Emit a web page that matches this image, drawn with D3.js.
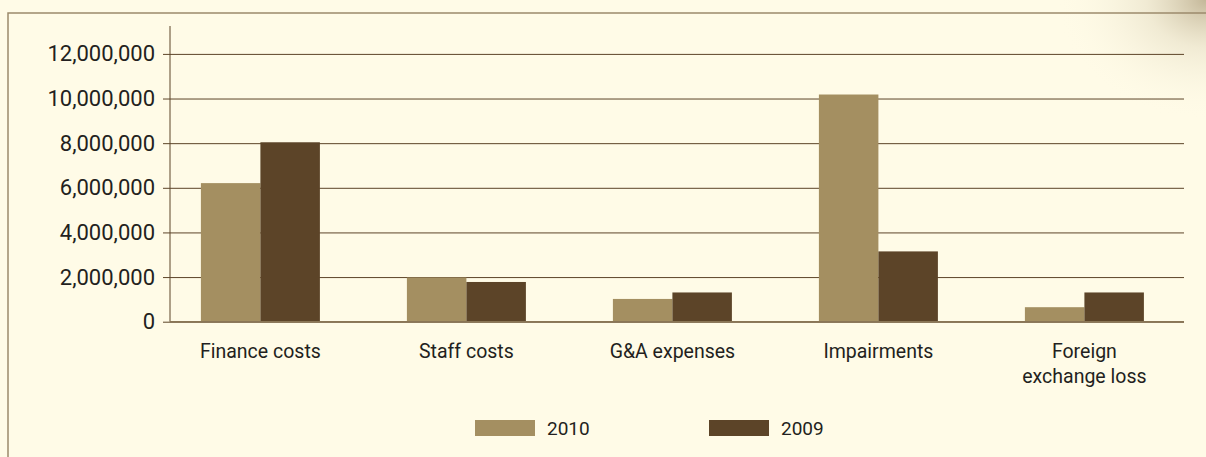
<!DOCTYPE html>
<html>
<head>
<meta charset="utf-8">
<script src="https://cdn.jsdelivr.net/npm/d3@7"></script>
<style>
  html, body { margin: 0; padding: 0; background: #fffbe7; }
  svg { display: block; font-family: Roboto, "Noto Sans", sans-serif; }
</style>
</head>
<body>
<script>
// chart data
const categories = ["Finance costs", "Staff costs", "G&A expenses", "Impairments", "Foreign\nexchange loss"];
const series = ["2010", "2009"];
const values2010 = [6210000, 1980000, 1020000, 10180000, 650000];
const values2009 = [8040000, 1780000, 1310000, 3150000, 1310000];
const yTicks = [0, 2000000, 4000000, 6000000, 8000000, 10000000, 12000000];

const colors = { "2010": "#a48f61", "2009": "#5c4428" };

const width = 1206;
const height = 457;
const marginLeft = 170;
const gridRight = 1184;

const data = categories.map((c, i) => ({ category: c, "2010": values2010[i], "2009": values2009[i] }));

const svg = d3.select("body")
    .append("svg")
    .attr("width", width)
    .attr("height", height)
    .attr("viewBox", [0, 0, width, height]);

// soft shading in the top right corner
const defs = svg.append("defs");
const grad = defs.append("radialGradient")
    .attr("id", "corner")
    .attr("cx", 1).attr("cy", 0).attr("r", 1);
grad.append("stop").attr("offset", "0%").attr("stop-color", "#b5a685").attr("stop-opacity", 0.8);
grad.append("stop").attr("offset", "40%").attr("stop-color", "#d6ccb0").attr("stop-opacity", 0.35);
grad.append("stop").attr("offset", "100%").attr("stop-color", "#fffbe7").attr("stop-opacity", 0);

svg.append("rect")
    .attr("width", width).attr("height", height)
    .attr("fill", "#fffbe7");
svg.append("rect")
    .attr("x", 1056).attr("y", 0)
    .attr("width", 150).attr("height", 120)
    .attr("fill", "url(#corner)");

// frame (left + top)
svg.append("path")
    .attr("d", `M8,${height}V13H${width}`)
    .attr("fill", "none")
    .attr("stroke", "#9c8a6c")
    .attr("stroke-width", 1.5);

// scales
const y = d3.scaleLinear()
    .domain([0, 13250000])
    .range([321.7, 26]);

const x0 = d3.scaleBand()
    .domain(categories)
    .range([157.4, 1187.4]);

const groupWidth = 119;
const x1 = d3.scaleBand()
    .domain(series)
    .range([x0.bandwidth() / 2 - groupWidth / 2, x0.bandwidth() / 2 + groupWidth / 2]);

// y axis with gridlines
svg.append("g")
    .attr("transform", `translate(${marginLeft},0)`)
    .call(d3.axisLeft(y)
        .tickValues(yTicks)
        .tickSize(7)
        .tickPadding(8)
        .tickFormat(d3.format(",")))
    .call(g => g.select(".domain").remove())
    .call(g => g.selectAll(".tick line").attr("stroke", "#5c4428"))
    .call(g => g.selectAll(".tick text")
        .attr("fill", "#231f20")
        .attr("font-size", 22)
        .attr("font-family", "Roboto, sans-serif"))
    .call(g => g.selectAll(".tick").append("line")
        .attr("x2", gridRight - marginLeft)
        .attr("stroke", "#5c4428"));

// axis line
svg.append("line")
    .attr("x1", marginLeft).attr("x2", marginLeft)
    .attr("y1", y.range()[1]).attr("y2", y(0))
    .attr("stroke", "#5c4428");

// bars
svg.append("g")
  .selectAll("g")
  .data(data)
  .join("g")
    .attr("transform", d => `translate(${x0(d.category)},0)`)
  .selectAll("rect")
  .data(d => series.map(k => ({ key: k, value: d[k] })))
  .join("rect")
    .attr("x", d => x1(d.key))
    .attr("y", d => y(d.value))
    .attr("width", x1.bandwidth())
    .attr("height", d => y(0) - y(d.value))
    .attr("fill", d => colors[d.key]);

// baseline
svg.append("line")
    .attr("x1", marginLeft).attr("x2", gridRight)
    .attr("y1", y(0)).attr("y2", y(0))
    .attr("stroke", "#8a7656")
    .attr("stroke-width", 1.5);

// category labels
const xLabels = svg.append("g")
    .attr("fill", "#231f20")
    .attr("font-size", 19.5)
    .attr("text-anchor", "middle")
  .selectAll("text")
  .data(categories)
  .join("text")
    .attr("x", d => x0(d) + x0.bandwidth() / 2)
    .attr("y", 358);
xLabels.selectAll("tspan")
  .data(d => d.split("\n"))
  .join("tspan")
    .attr("x", function () { return d3.select(this.parentNode).attr("x"); })
    .attr("dy", (d, i) => i === 0 ? 0 : 25)
    .text(d => d);

// legend
const legendX = [475, 709];
const legend = svg.append("g")
  .selectAll("g")
  .data(series)
  .join("g")
    .attr("transform", (d, i) => `translate(${legendX[i]},420)`);
legend.append("rect")
    .attr("width", 60)
    .attr("height", 16)
    .attr("fill", d => colors[d]);
legend.append("text")
    .attr("x", 72)
    .attr("y", 8)
    .attr("dy", "0.35em")
    .attr("font-size", 19)
    .attr("fill", "#231f20")
    .text(d => d);
</script>
</body>
</html>
